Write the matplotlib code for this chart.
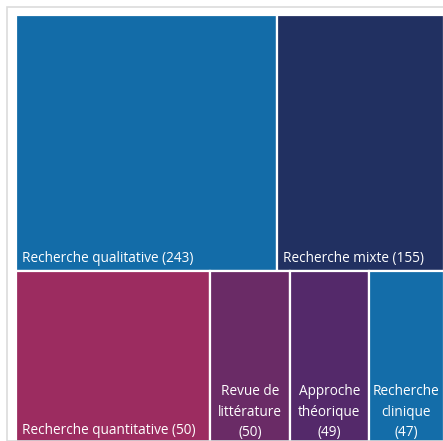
import matplotlib
matplotlib.use("Agg")
import matplotlib.pyplot as plt
from matplotlib.patches import Rectangle

# Data
categories = ["Recherche qualitative", "Recherche mixte", "Recherche quantitative",
              "Revue de\nlittérature", "Approche\nthéorique", "Recherche\nclinique"]
counts = [243, 155, 50, 50, 49, 47]
areas = [243, 155, 121, 50, 49, 47]   # area weights as drawn in the reference
rows = [[0, 1], [2, 3, 4, 5]]
colors = ["#136CA8", "#213061", "#9C2C60", "#6A2B66", "#54296A", "#146DA9"]
centered = [False, False, False, True, True, True]

W, H = 443, 441
fig = plt.figure(figsize=(W / 100, H / 100), dpi=100)
fig.patch.set_facecolor("white")

# outer light frame
fig.patches.append(Rectangle((7 / W, 0), 1.2, 1 - 7 / H, transform=fig.transFigure,
                             fill=False, edgecolor="#DCDCDC", linewidth=1.2))

x0, y0, side = 16, 15, 428
ax = fig.add_axes([x0 / W, (H - y0 - side) / H, side / W, side / H])
ax.set_xlim(0, 1)
ax.set_ylim(1, 0)
ax.axis("off")

fam = ["Open Sans", "DejaVu Sans"]
fs = 9.8
total = sum(areas)
y = 0.0
for row in rows:
    rsum = sum(areas[i] for i in row)
    h = rsum / total
    x = 0.0
    for i in row:
        w = areas[i] / rsum
        ax.add_patch(Rectangle((x, y), w, h, facecolor=colors[i], edgecolor="white",
                               linewidth=1.6))
        if centered[i]:
            label = f"{categories[i]}\n({counts[i]})"
            ax.text(x + w / 2, y + h - 0.006, label, ha="center", va="bottom", color="white",
                    fontsize=fs, linespacing=1.5, family=fam)
        else:
            label = f"{categories[i]} ({counts[i]})"
            ax.text(x + 0.014, y + h - 0.012, label, ha="left", va="bottom", color="white",
                    fontsize=fs, family=fam)
        x += w
    y += h

fig.savefig("out.png", dpi=100)
